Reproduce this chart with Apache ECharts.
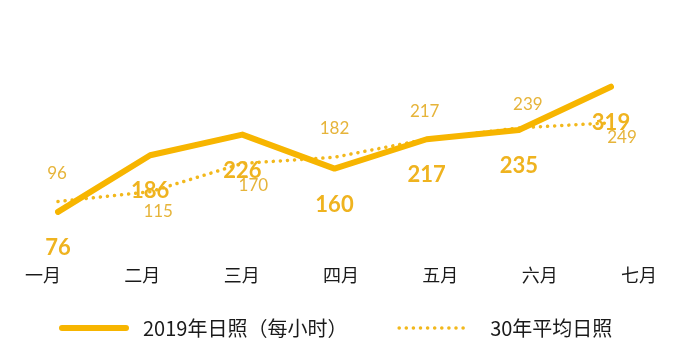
<!DOCTYPE html>
<html><head><meta charset="utf-8">
<script src="https://cdn.jsdelivr.net/npm/echarts@6/dist/echarts.min.js"></script>
<style>html,body{margin:0;padding:0;background:#fff}#c{width:680px;height:364px}</style>
</head><body><div id="c"></div>
<script>
const months = ['一月','二月','三月','四月','五月','六月','七月'];
const sun2019 = [76, 186, 226, 160, 217, 235, 319];
const avg30 = [96, 115, 170, 182, 217, 239, 249];
const name2019 = '2019年日照（每小时）';
const nameAvg = '30年平均日照';

// label placement (offsets from point), kept apart from data
const avgLabelOffset = [[-1,-28],[8,20],[11,22],[0,-29],[-2,-28],[9,-23],[11,15]];

const chart = echarts.init(document.getElementById('c'));
chart.setOption({
  animation: false,
  grid: [
    {left: 58, right: 69, top: 45, bottom: 113},
    {left: 43, right: 41, top: 45, bottom: 113}
  ],
  xAxis: [
    {type: 'category', data: months, boundaryGap: false, gridIndex: 0, show: false},
    {type: 'category', data: months, boundaryGap: false, gridIndex: 1,
     axisLine: {show: false}, axisTick: {show: false}, splitLine: {show: false},
     axisLabel: {color: '#1a1a1a', fontSize: 18, margin: 15, fontFamily: 'Noto Sans CJK SC'}}
  ],
  yAxis: [
    {type: 'value', min: 0, max: 400, gridIndex: 0, show: false},
    {type: 'value', min: 0, max: 400, gridIndex: 1, show: false}
  ],
  legend: {
    bottom: 21, left: 54, itemWidth: 64, itemHeight: 8, itemGap: 50,
    textStyle: {color: '#1a1a1a', fontSize: 20, fontFamily: 'Noto Sans CJK SC'},
    data: [
      {name: name2019, lineStyle: {width: 6}, textStyle: {padding: [0,0,0,12]}},
      {name: nameAvg, lineStyle: {width: 3.5}, textStyle: {padding: [0,0,0,22]}}
    ]
  },
  series: [
    {
      name: nameAvg, type: 'line', xAxisIndex: 0, yAxisIndex: 0,
      symbol: 'circle', symbolSize: 1, itemStyle: {color: 'transparent'},
      lineStyle: {color: '#F2B81C', width: 3.5, type: [0.1, 7], cap: 'round'},
      data: avg30.map((v, i) => ({value: v, label: {offset: avgLabelOffset[i]}})),
      label: {show: true, position: 'inside', color: '#E6B43A', fontSize: 17,
              fontFamily: 'Lato'},
      z: 2
    },
    {
      name: name2019, type: 'line', xAxisIndex: 0, yAxisIndex: 0,
      symbol: 'circle', symbolSize: 1, itemStyle: {color: 'transparent'},
      lineStyle: {color: '#F7B500', width: 6, cap: 'round', join: 'round'},
      data: sun2019,
      label: {show: true, position: 'inside', offset: [0, 36], color: '#EFB31F',
              fontSize: 22, fontWeight: 'bold', fontFamily: 'Lato'},
      z: 3
    }
  ]
});
</script></body></html>
